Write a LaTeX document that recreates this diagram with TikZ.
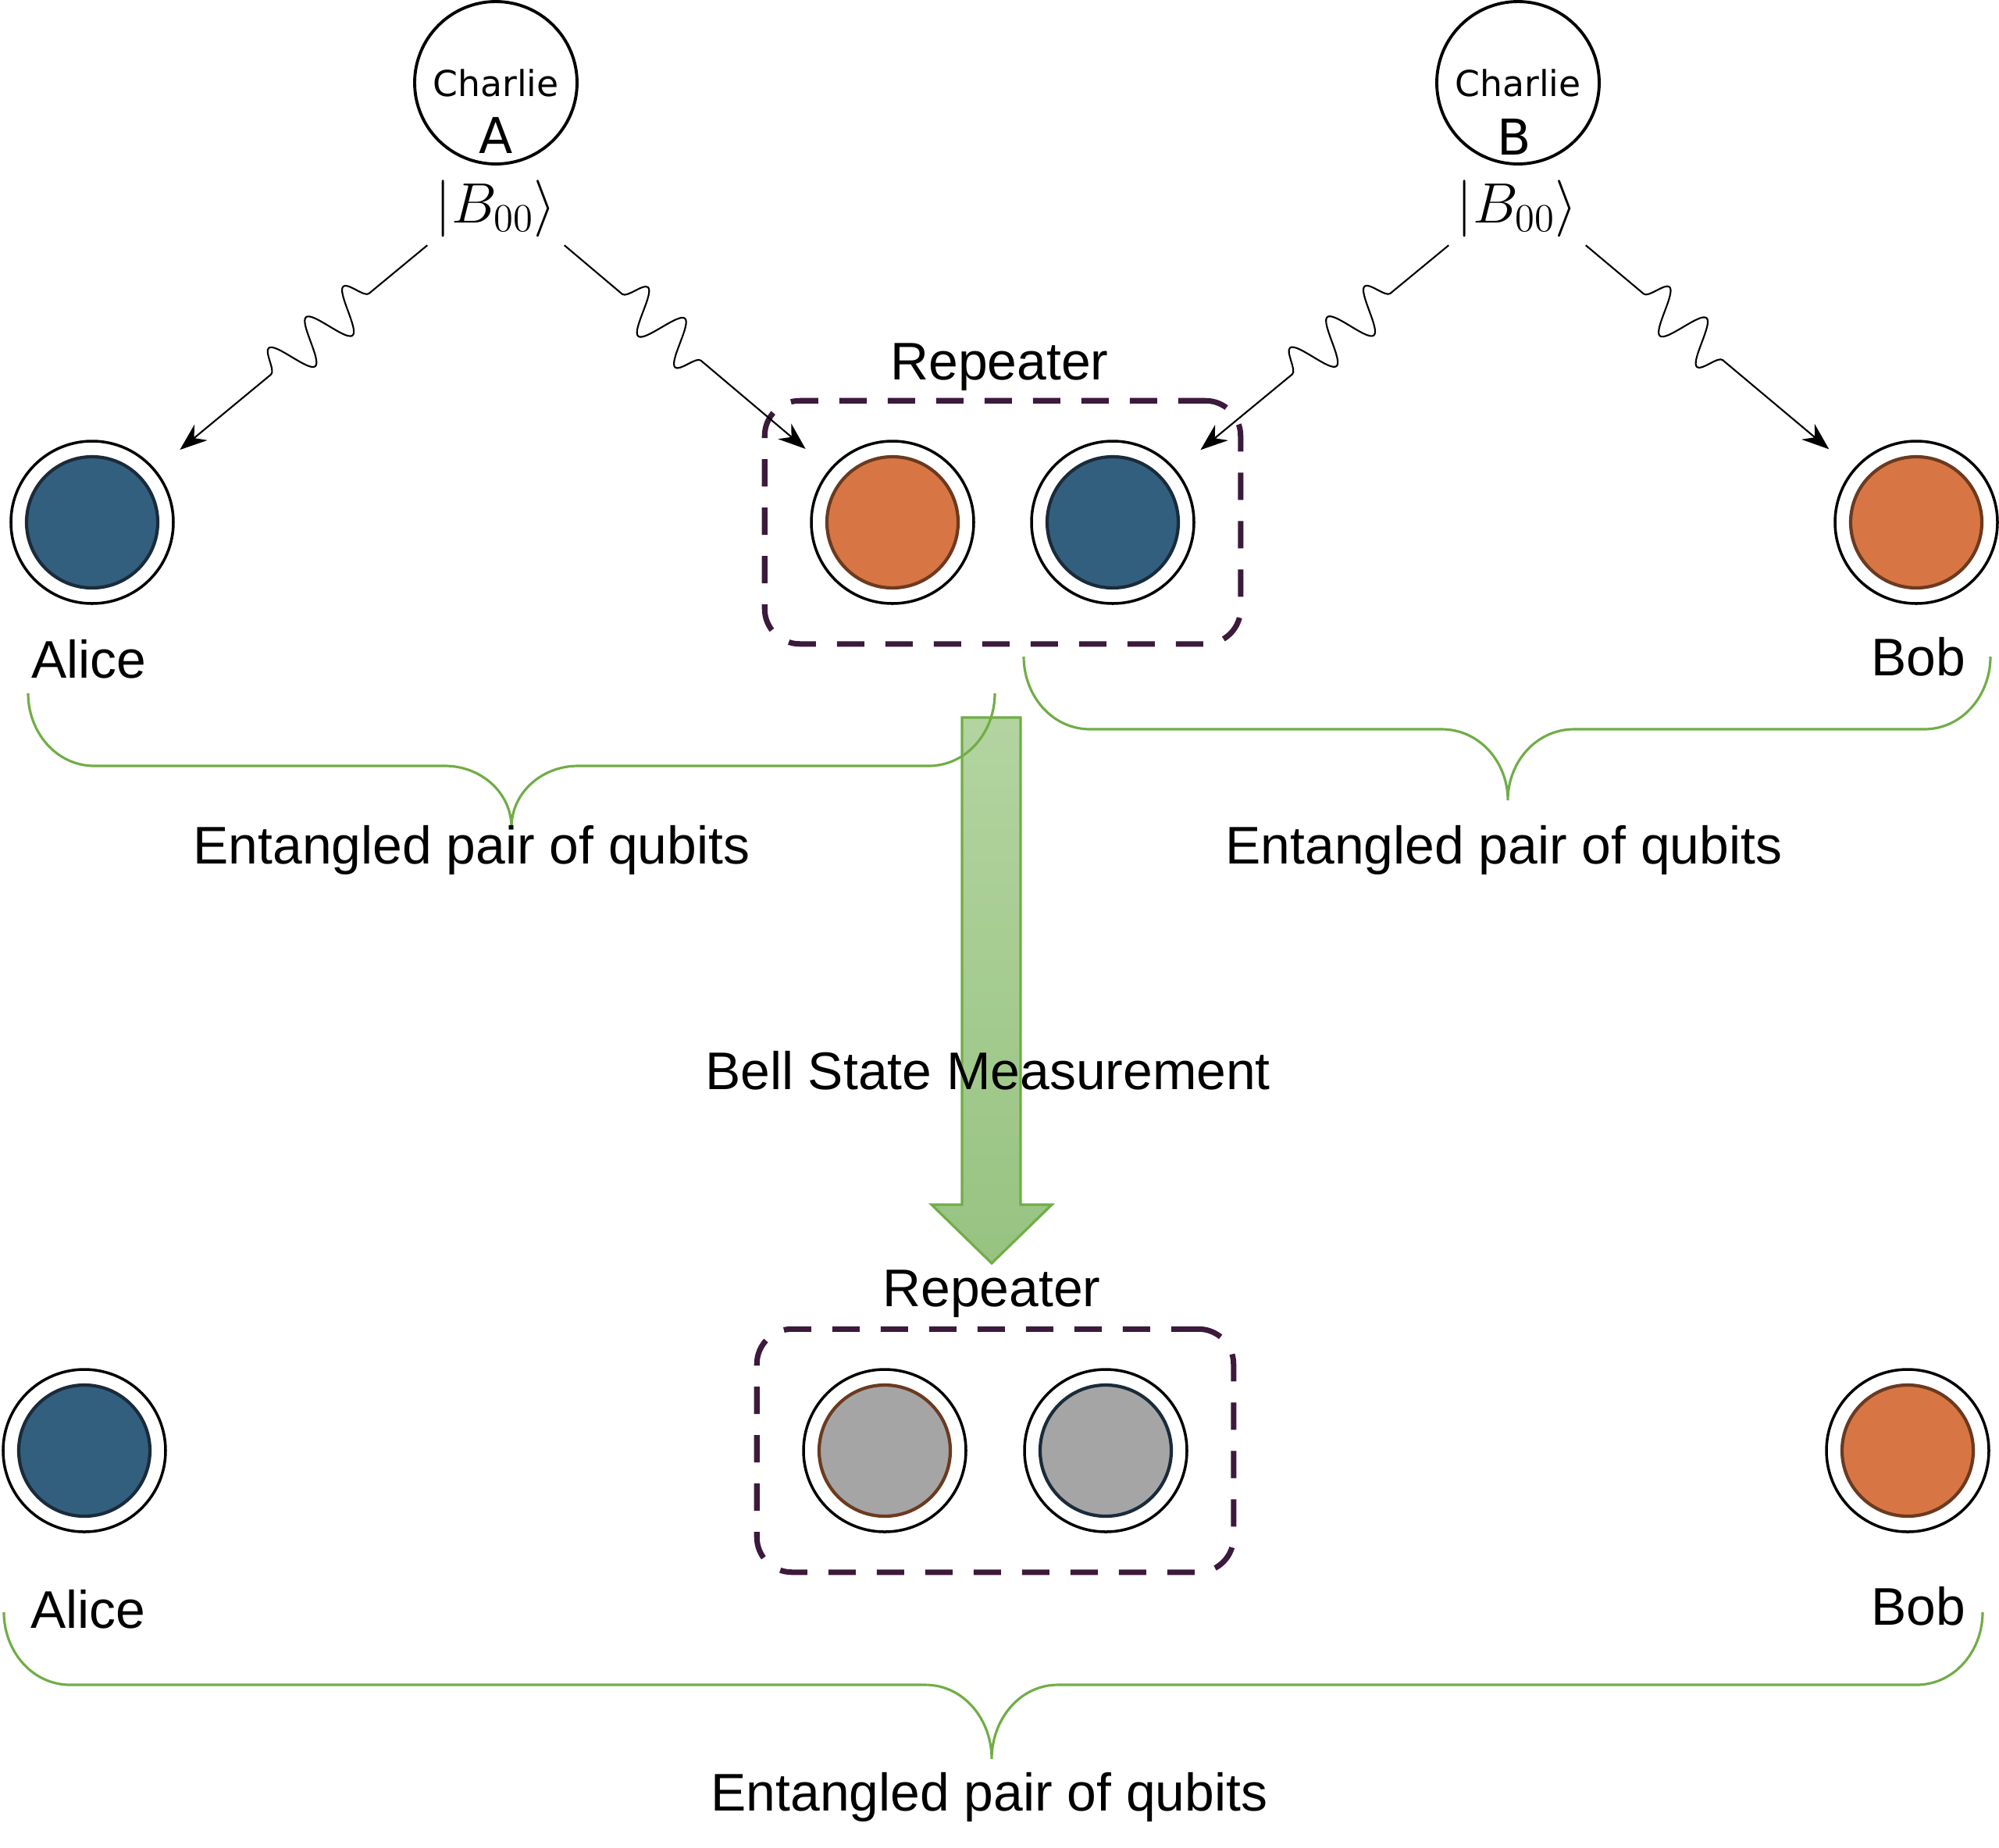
\documentclass[tikz,border=0pt]{standalone}
\usepackage[no-math]{fontspec}
\setmainfont{Liberation Sans}
\newfontfamily\dejavu{DejaVu Sans}
\usepackage{tikz}
\usetikzlibrary{calc,arrows.meta,positioning,fit,decorations.pathmorphing}
\definecolor{qblue}{HTML}{335F7F}
\definecolor{qbluer}{HTML}{1A2B3A}
\definecolor{qorange}{HTML}{D77644}
\definecolor{qoranger}{HTML}{6B3A20}
\definecolor{qgray}{HTML}{A5A5A5}
\definecolor{repc}{HTML}{3C1A3C}
\definecolor{greenc}{HTML}{70AD47}
\definecolor{greentop}{HTML}{B3D4A0}
\definecolor{greenbot}{HTML}{97C381}
\tikzset{
  qubit/.style 2 args={circle,draw=black,line width=1pt,minimum size=2.08cm,inner sep=0pt,
    path picture={\draw[fill=#1,draw=#2,line width=1.2pt] (path picture bounding box.center) circle (0.84);}},
  charlie/.style={circle,draw=black,line width=1.1pt,minimum size=2.08cm,inner sep=0pt},
  lbl/.style={font=\fontsize{19.3}{22}\selectfont,inner sep=0pt},
  wv/.style={-{Stealth[length=3.5mm,width=2.6mm]},line width=0.6pt,shorten >=0.4cm,decorate,
    decoration={snake,amplitude=0.28cm,segment length=0.62cm,pre length=0.97cm,post length=1.86cm}},
  repbox/.style={draw=repc,line width=2pt,dash pattern=on 0.35cm off 0.27cm,rounded corners=0.45cm,
    inner xsep=0.58cm,inner ysep=0.5cm},
  brc/.style={draw=greenc,line width=0.9pt}
}
\begin{document}
\begin{tikzpicture}
\useasboundingbox (0,0) rectangle (25.6,-23.66);
% sources
\node[charlie] (chA) at (6.35,-1.06) {};
\node[font=\dejavu\fontsize{13}{15}\selectfont,inner sep=0pt] (chAn) at (6.35,-1.06) {Charlie};
\node[font=\dejavu\fontsize{18}{20}\selectfont,inner sep=0pt] (chAl) at (6.35,-1.735) {A};
\node[font=\fontsize{20}{24}\selectfont,inner sep=0.1cm] (bA) at (6.35,-2.67) {$|B_{00}\rangle$};
\node[charlie] (chB) at (19.44,-1.06) {};
\node[font=\dejavu\fontsize{13}{15}\selectfont,inner sep=0pt] (chBn) at (19.44,-1.06) {Charlie};
\node[font=\dejavu\fontsize{18}{20}\selectfont,inner sep=0pt] (chBl) at (19.39,-1.75) {B};
\node[font=\fontsize{20}{24}\selectfont,inner sep=0.1cm] (bB) at (19.43,-2.67) {$|B_{00}\rangle$};
% top row
\node[qubit={qblue}{qbluer}] (alice1) at (1.18,-6.69) {};
\node[qubit={qorange}{qoranger}] (rep1a) at (11.43,-6.69) {};
\node[qubit={qblue}{qbluer}] (rep1b) at (14.25,-6.69) {};
\node[qubit={qorange}{qoranger}] (bob1) at (24.54,-6.69) {};
\node[repbox,fit=(rep1a)(rep1b)] (repA) {};
\node[lbl] (repAn) at (12.80,-4.70) {Repeater};
\node[lbl] (aliceAn) at (1.14,-8.44) {Alice};
\node[lbl] (bobAn) at (24.57,-8.41) {Bob};
\draw[wv,decoration={mirror}] (bA.south west) -- (alice1);
\draw[wv] (bA.south east) -- (rep1a);
\draw[wv,decoration={mirror}] (bB.south west) -- (rep1b);
\draw[wv] (bB.south east) -- (bob1);
% measurement
\draw[draw=greenc,line width=0.9pt,top color=greentop,bottom color=greenbot]
  (12.32,-9.19) -- (13.07,-9.19) -- (13.07,-15.43) -- (13.47,-15.43) -- (12.70,-16.18)
  -- (11.93,-15.43) -- (12.32,-15.43) -- cycle;
\node[lbl] (bsm) at (12.65,-13.71) {Bell State Measurement};
% braces
\foreach \xl/\xm/\xr/\yt/\yf/\yb in {0.36/6.55/12.74/-8.88/-9.81/-10.60,
    13.11/19.31/25.49/-8.41/-9.34/-10.25, 0.05/12.70/25.39/-20.65/-21.58/-22.53}
  \draw[brc] (\xl,\yt) to[out=-90,in=180] (\xl+0.85,\yf) -- (\xm-0.85,\yf) to[out=0,in=90] (\xm,\yb)
    to[out=90,in=180] (\xm+0.85,\yf) -- (\xr-0.85,\yf) to[out=0,in=-90] (\xr,\yt);
\node[lbl] (entA) at (6.04,-10.89) {Entangled pair of qubits};
\node[lbl] (entB) at (19.26,-10.89) {Entangled pair of qubits};
% bottom row
\node[qubit={qblue}{qbluer}] (alice2) at (1.08,-18.58) {};
\node[qubit={qgray}{qoranger}] (rep2a) at (11.33,-18.58) {};
\node[qubit={qgray}{qbluer}] (rep2b) at (14.16,-18.58) {};
\node[qubit={qorange}{qoranger}] (bob2) at (24.43,-18.58) {};
\node[repbox,fit=(rep2a)(rep2b)] (repB) {};
\node[lbl] (repBn) at (12.70,-16.57) {Repeater};
\node[lbl] (aliceBn) at (1.13,-20.61) {Alice};
\node[lbl] (bobBn) at (24.57,-20.57) {Bob};
\node[lbl] (entC) at (12.67,-23.02) {Entangled pair of qubits};
\end{tikzpicture}
\end{document}
